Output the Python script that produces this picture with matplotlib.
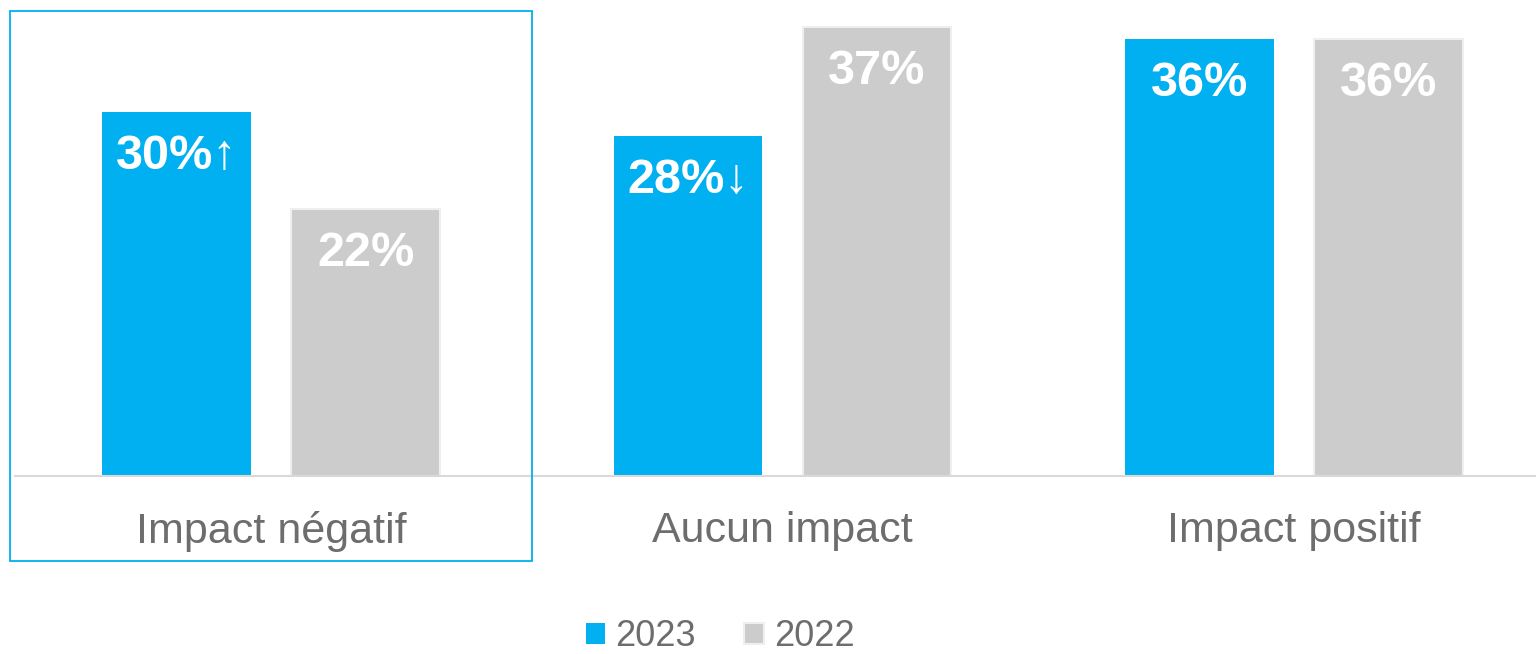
import matplotlib.pyplot as plt
import matplotlib.patches as patches
import numpy as np

plt.rcParams['font.family'] = ['Liberation Sans', 'DejaVu Sans']

categories = ["Impact négatif", "Aucun impact", "Impact positif"]
values_2023 = [30, 28, 36]
values_2022 = [22, 37, 36]
labels_2023 = ["30%↑", "28%↓", "36%"]
labels_2022 = ["22%", "37%", "36%"]

blue = "#00B0F0"
gray = "#CCCCCC"
txt = "#6D6D6D"

fig = plt.figure(figsize=(15.36, 6.54), dpi=100)
ax = fig.add_axes([15 / 1536, 178 / 654, 1521 / 1536, 476 / 654])

x = np.arange(len(categories))
w = 0.291
off = 0.1848
b1 = ax.bar(x - off, values_2023, w, color=blue, label="2023")
b2 = ax.bar(x + off, values_2022, w, color=gray, edgecolor="#EFEFEF", linewidth=1.5, label="2022")

for bars, labs in ((b1, labels_2023), (b2, labels_2022)):
    for bar, lab in zip(bars, labs):
        ax.annotate(lab, (bar.get_x() + bar.get_width() / 2, bar.get_height()),
                    xytext=(0, -32), textcoords="offset points",
                    ha="center", va="center", color="white",
                    fontsize=35, fontweight="bold")

ax.set_xlim(-256 / 511.5, 1265 / 511.5)
ax.set_ylim(0, 476 / 12.13)
ax.set_xticks(x)
ax.set_xticklabels(categories, fontsize=31, color=txt)
ax.tick_params(axis="x", length=0, pad=25)
ax.set_yticks([])
for s in ["top", "left", "right"]:
    ax.spines[s].set_visible(False)
ax.spines["bottom"].set_color("#D9D9D9")
ax.spines["bottom"].set_linewidth(1.5)

fig.legend(handles=[b1, b2], loc="center", bbox_to_anchor=(720 / 1536, 1 - 637 / 654),
           ncol=2, frameon=False, fontsize=26, labelcolor=txt,
           handlelength=0.53, handleheight=0.53, handletextpad=0.28,
           columnspacing=1.36)

rect = patches.Rectangle((10 / 1536, 1 - 561 / 654), 522 / 1536, 550 / 654,
                         transform=fig.transFigure, fill=False,
                         edgecolor=blue, linewidth=1.3)
fig.patches.append(rect)

fig.savefig("out.png", dpi=100)
